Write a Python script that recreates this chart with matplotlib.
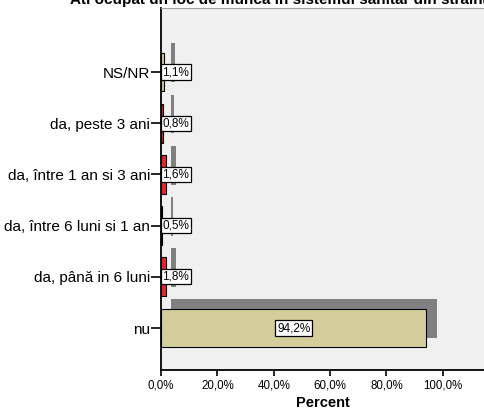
import matplotlib
matplotlib.use("Agg")
import matplotlib.pyplot as plt

plt.rcParams['font.family'] = ['Liberation Sans', 'DejaVu Sans']

# categories bottom -> top
categories = ["nu", "da, până in 6 luni", "da, între 6 luni si 1 an",
              "da, între 1 an si 3 ani", "da, peste 3 ani", "NS/NR"]
percent = [94.2, 1.8, 0.5, 1.6, 0.8, 1.1]
value_labels = ["94,2%", "1,8%", "0,5%", "1,6%", "0,8%", "1,1%"]
bar_colors = ["#D4CE9C", "#E8262D", "#E8262D", "#E8262D", "#E8262D", "#D4CE9C"]
xticks = [0, 20, 40, 60, 80, 100]
xtick_labels = ["0,0%", "20,0%", "40,0%", "60,0%", "80,0%", "100,0%"]

fig = plt.figure(figsize=(4.85, 4.09), dpi=100)
ax = fig.add_axes([161/485, 1 - 370/409, 1 - 161/485, 362/409])
ax.set_facecolor("#F0F0F0")

pos = list(range(len(categories)))
h = 0.76
dx, dy = 3.7, 0.18

# shadows
ax.barh([p + dy for p in pos], percent, left=dx, height=h, color="#808080",
        edgecolor="none", zorder=1)
# bars
ax.barh(pos, percent, height=h, color=bar_colors, edgecolor="black",
        linewidth=0.8, zorder=2)

box = dict(boxstyle="square,pad=0.14", fc="white", ec="black", lw=0.9)
for p, v, lab in zip(pos, percent, value_labels):
    if v > 10:
        ax.text(v / 2, p, lab, ha="center", va="center", fontsize=8.5,
                bbox=box, zorder=3)
    else:
        ax.text(0.5, p, lab, ha="left", va="center", fontsize=8.5,
                bbox=box, zorder=3)

ax.set_xlim(0, 115)
ax.set_ylim(-0.82, 6.25)
ax.set_yticks(pos)
ax.set_yticklabels(categories, fontsize=11)
ax.set_xticks(xticks)
ax.set_xticklabels(xtick_labels, fontsize=8.3)
ax.tick_params(axis="y", length=7, width=1.2, pad=1)
ax.tick_params(axis="x", length=4, width=1.2, pad=3)
ax.set_xlabel("Percent", fontsize=10.5, fontweight="bold", labelpad=3)

for s in ["top", "right"]:
    ax.spines[s].set_color("#A0A0A0")
ax.spines["left"].set_linewidth(1.3)
ax.spines["bottom"].set_linewidth(1.3)

fig.text(70/485, 1 - 4/409, "Ati ocupat un loc de munca in sistemul sanitar din strainatate?",
         fontsize=11, fontweight="bold", ha="left", va="baseline")

fig.savefig("out.png", dpi=100)
